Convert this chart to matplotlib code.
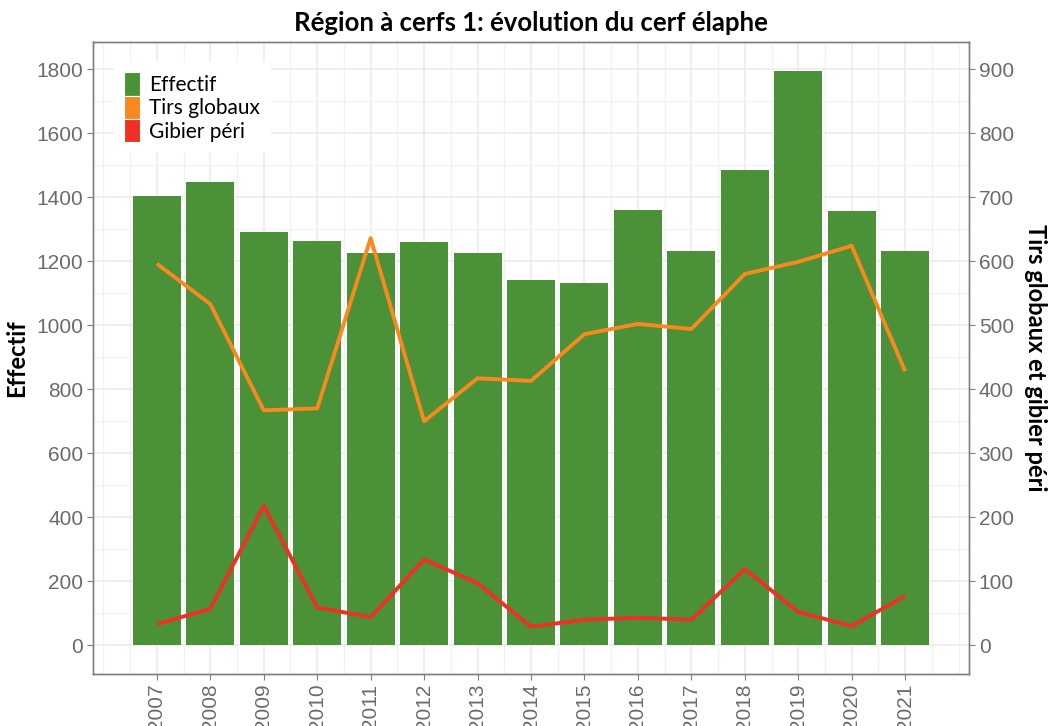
import numpy as np
import matplotlib
matplotlib.use("Agg")
from matplotlib import pyplot as plt
from matplotlib.patches import Patch

# data
annees = [2007, 2008, 2009, 2010, 2011, 2012, 2013, 2014,
          2015, 2016, 2017, 2018, 2019, 2020, 2021]
effectif = [1405, 1446, 1292, 1264, 1226, 1261, 1226, 1141,
            1132, 1361, 1232, 1486, 1794, 1358, 1232]
tirs_globaux = [596, 533, 367, 370, 636, 350, 417, 413,
                486, 502, 494, 580, 599, 624, 428]
gibier_peri = [33, 57, 218, 59, 44, 134, 97, 29,
               40, 43, 40, 119, 52, 30, 77]

VERT = "#4A9137"
ORANGE = "#F7891F"
ROUGE = "#EE3124"
GRIS_TXT = "#6B6B6B"
GRIS_GRILLE = "#EBEBEB"
GRIS_CADRE = "#7F7F7F"

TXT_FONT = ["Lato", "DejaVu Sans"]
TICK_FONT = ["Liberation Sans", "DejaVu Sans"]

fig = plt.figure(figsize=(10.5, 7.26), dpi=100)
ax = fig.add_axes([93 / 1050, 1 - 674 / 726, 876 / 1050, 632 / 726])

ax.bar(annees, effectif, width=0.9, color=VERT, zorder=2)

ymax = 1795
ax.set_ylim(-0.05 * ymax, 1.05 * ymax)
ax.set_xlim(2006.55 - 0.745, 2021.45 + 0.745)

ax.set_yticks(np.arange(0, 1801, 200))
ax.set_yticks(np.arange(100, 1900, 200), minor=True)
ax.set_xticks(annees)
ax.set_xticks(np.arange(2006, 2022.01, 0.5), minor=True)
ax.set_xticklabels([str(a) for a in annees], rotation=90)

ax.grid(which="major", color=GRIS_GRILLE, lw=1.1, zorder=0)
ax.grid(which="minor", color="#F2F2F2", lw=0.9, zorder=0)
ax.set_axisbelow(True)

ax2 = ax.twinx()
ax2.set_ylim(ax.get_ylim()[0] / 2, ax.get_ylim()[1] / 2)
ax2.set_yticks(np.arange(0, 901, 100))
ax2.plot(annees, tirs_globaux, color=ORANGE, lw=2.8, solid_capstyle="butt")
ax2.plot(annees, gibier_peri, color=ROUGE, lw=2.8, solid_capstyle="butt")

for a in (ax, ax2):
    for s in a.spines.values():
        s.set_color(GRIS_CADRE)
        s.set_linewidth(1.0)
    a.tick_params(which="major", length=4, color=GRIS_CADRE, labelcolor=GRIS_TXT,
                  labelsize=15, pad=3)
    a.tick_params(which="minor", length=0)
    for lab in a.get_xticklabels() + a.get_yticklabels():
        lab.set_family(TICK_FONT)

ax.set_ylabel("Effectif", fontsize=17, fontweight="bold", family=TXT_FONT, labelpad=6)
ax2.set_ylabel("Tirs globaux et gibier péri", fontsize=17, fontweight="bold",
               family=TXT_FONT, rotation=270, labelpad=24)
ax.set_title("Région à cerfs 1: évolution du cerf élaphe", fontsize=18.5,
             fontweight="bold", family=TXT_FONT, pad=8)

handles = [Patch(facecolor=VERT, edgecolor="white", lw=0.8),
           Patch(facecolor=ORANGE, edgecolor="white", lw=0.8),
           Patch(facecolor=ROUGE, edgecolor="white", lw=0.8)]
leg = ax2.legend(handles, ["Effectif", "Tirs globaux", "Gibier péri"],
                 loc="upper left", bbox_to_anchor=(0.012, 0.985),
                 prop={"family": TXT_FONT, "size": 15},
                 handlelength=0.75, handleheight=1.35, labelspacing=0.0,
                 handletextpad=0.45, borderpad=0.5, frameon=True,
                 fancybox=False, framealpha=1.0, edgecolor="white")
leg.get_frame().set_linewidth(0)

fig.savefig("out.png", dpi=100)
